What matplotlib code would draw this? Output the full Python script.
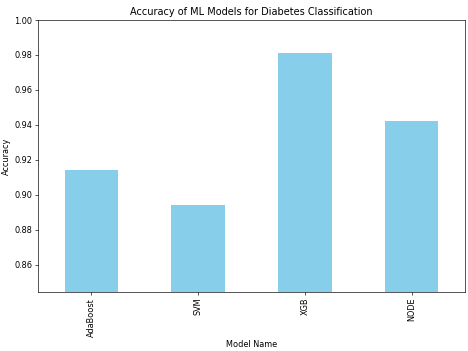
import matplotlib
matplotlib.use('Agg')
import matplotlib.pyplot as plt

models = ['AdaBoost', 'SVM', 'XGB', 'NODE']
accuracy = [0.914, 0.8945, 0.981, 0.9423]

fig, ax = plt.subplots(figsize=(8, 6), dpi=58.5)
x = range(len(models))
ax.bar(x, accuracy, width=0.5, color='skyblue')
ax.set_xticks(list(x))
ax.set_xticklabels(models, rotation=90)
ax.set_xlim(-0.5, len(models) - 0.5)
ax.set_ylim(min(accuracy) - 0.05, 1.0)
ax.set_xlabel('Model Name')
ax.set_ylabel('Accuracy')
ax.set_title('Accuracy of ML Models for Diabetes Classification')
plt.subplots_adjust(left=0.081, right=0.994, top=0.943, bottom=0.168)
plt.savefig('out.png')
